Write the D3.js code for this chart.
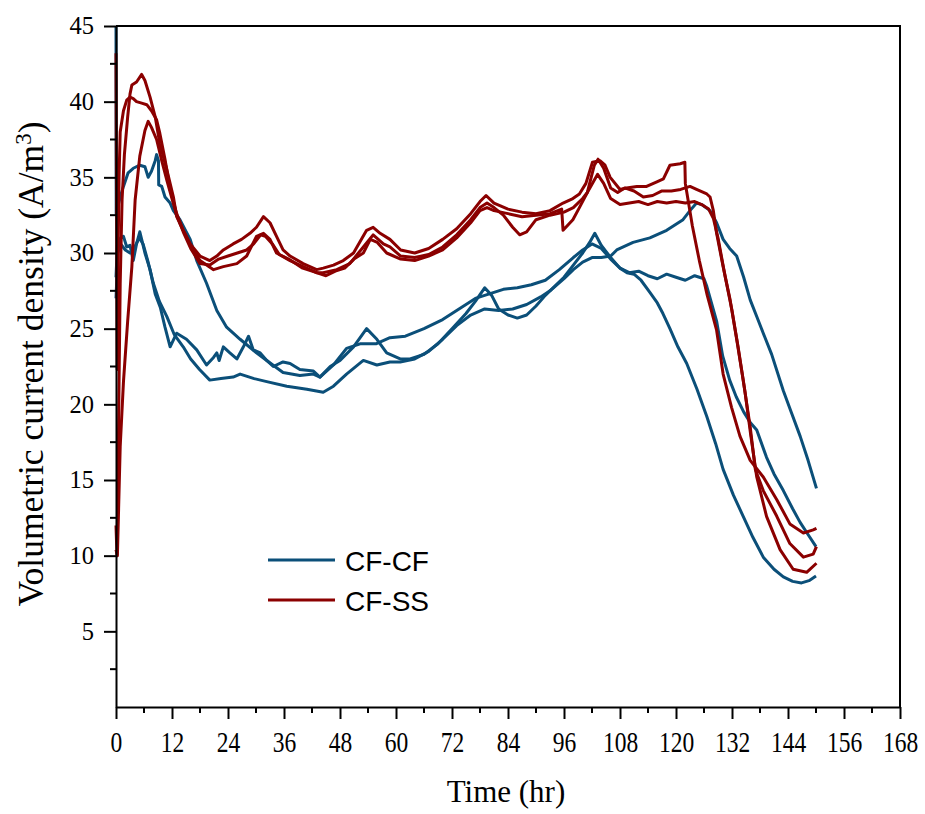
<!DOCTYPE html>
<html>
<head>
<meta charset="utf-8">
<script src="https://cdn.jsdelivr.net/npm/d3@7"></script>
<style>
  body { margin: 0; background: #fff; }
  svg { display: block; }
</style>
</head>
<body>
<div id="chart"></div>
<script>
// hours vs volumetric current density (A/m3)
const cfcf1 = [[0,45],[0.05,32.6],[0.9,33.7],[1.6,34.4],[2.6,35.3],[3.7,35.6],[5.1,35.8],[6.2,35.7],[6.9,35.0],[7.6,35.4],[8.4,36.1],[8.7,36.5],[9.1,36.1],[9.15,34.5],[9.8,34.4],[10.5,33.7],[11.6,33.3],[12.3,32.8],[13.7,32.2],[15.9,30.9],[17.3,29.5],[19.4,28.0],[21.6,26.2],[23.7,25.1],[26.6,24.3],[30.1,23.4],[32.3,22.9],[35.8,22.1],[39.4,21.9],[42.3,22.0],[43.7,21.8],[46.6,22.6],[49.4,23.7],[52.3,24.0],[55.7,24.0],[58.7,24.4],[62,24.5],[66,25.0],[70,25.6],[74,26.4],[77,27.0],[80,27.3],[83,27.6],[86,27.7],[89,27.9],[92,28.2],[95,28.9],[98,29.7],[100,30.2],[102,30.6],[104,30.3],[106,29.6],[108,29.0],[110,28.7],[112,28.8],[114,28.5],[116,28.3],[118,28.6],[120,28.4],[122,28.2],[124,28.5],[126,28.3],[126.6,27.8],[128.7,25.5],[130,23.2],[131.5,21.6],[132.9,20.5],[134.5,19.5],[135.9,18.8],[137.3,18.3],[139.4,16.5],[141,15.4],[143,14.3],[145,13.1],[146.6,12.2],[148.5,11.3],[150,10.6]];
const cfcf2 = [[0,28.4],[0.3,30.5],[1,31.0],[1.6,31.1],[2.3,30.4],[3,30.5],[3.7,29.5],[4.4,30.6],[5.1,31.4],[5.5,30.9],[6.2,30.0],[7.3,28.9],[8.4,27.3],[9.5,26.4],[10.5,25.1],[11.6,23.8],[13,24.7],[15.1,24.3],[17.3,23.6],[19.4,22.6],[20.9,23.1],[21.6,23.4],[22.1,22.9],[23,23.8],[24.4,23.4],[25.9,23.0],[27.3,23.8],[28.4,24.5],[29.4,23.6],[30.9,23.4],[32.3,22.9],[33.7,22.5],[35.8,22.8],[37.3,22.7],[39.4,22.3],[42.3,22.2],[43.7,21.8],[45.9,22.5],[48,22.9],[50.9,23.8],[53.7,25.0],[55.9,24.3],[58,23.4],[60.9,23.0],[63,23.0],[66,23.3],[69,24.0],[72,25.0],[75,26.0],[77,26.8],[79,27.7],[80.5,27.2],[82,26.3],[84,25.9],[86,25.7],[88,25.9],[90,26.5],[92,27.2],[94,27.8],[96,28.4],[98,29.2],[100,30.0],[101.5,30.7],[102.6,31.3],[104,30.5],[106,29.7],[108,29.0],[109.5,28.7],[111,28.6],[112.5,28.2],[114.4,27.4],[116,26.7],[117.2,26.0],[118.7,25.0],[120.4,23.8],[122.3,22.7],[124.5,21.0],[126.6,19.2],[128.5,17.4],[130.1,15.7],[132.3,14.0],[134.4,12.6],[136.5,11.2],[138.7,9.9],[141,9.1],[143,8.6],[145,8.3],[146.9,8.2],[148.5,8.35],[150,8.65]];
const cfcf3 = [[0,27.0],[0.4,30.0],[1,30.6],[2,30.2],[3,30.0],[4,30.4],[5,31.0],[5.8,30.6],[6.8,29.5],[8,28.0],[9.3,26.8],[10.9,25.8],[12.5,24.6],[14.4,23.8],[16,23.0],[17.9,22.3],[20.1,21.6],[22.5,21.7],[25.1,21.8],[26.6,22.0],[29.6,21.7],[32.3,21.5],[36.6,21.2],[40.9,21.0],[44.4,20.8],[46.6,21.2],[49.4,22.0],[53,22.9],[55.9,22.6],[58.7,22.8],[60.9,22.8],[64,23.0],[67,23.5],[70,24.3],[73,25.2],[76,25.9],[79,26.3],[82,26.2],[85,26.3],[88,26.6],[91,27.1],[93,27.5],[96,28.3],[98,28.9],[100,29.4],[102,29.7],[104,29.7],[106,29.8],[107.3,30.2],[110.8,30.7],[114.4,31.0],[118,31.5],[121.5,32.2],[123,32.8],[124.4,33.3],[125.5,33.2],[127.3,32.8],[128.7,32.0],[130.1,30.9],[131.5,30.3],[133,29.8],[134.5,28.4],[135.9,26.9],[137.3,25.8],[138.7,24.7],[140.5,23.3],[143,20.9],[144.8,19.4],[146.6,17.9],[148.3,16.3],[150.1,14.45]];

const cfss1 = [[0,12.0],[0.2,10.1],[0.4,14],[0.6,20],[0.9,28],[1.3,33.5],[1.8,36.5],[2.5,39.0],[3.0,40.5],[3.4,41.1],[4.4,41.3],[5.5,41.8],[6.2,41.4],[7.3,40.3],[8.4,39.0],[9.4,37.2],[10.9,35.5],[12.3,33.7],[13,32.4],[14.4,31.5],[15.9,30.6],[18,29.8],[20.1,29.5],[21.6,29.8],[23,30.2],[25.1,30.6],[26.9,30.9],[28.7,31.3],[30.1,31.7],[31.6,32.4],[33,32.0],[34.4,31.1],[35.8,30.2],[37.3,29.8],[40.1,29.3],[43,28.9],[44.4,29.0],[46.6,29.2],[48.7,29.5],[50.9,30.0],[53.7,31.5],[55.1,31.7],[56.6,31.3],[58.7,30.9],[61,30.2],[64,30.0],[67,30.3],[70,30.9],[73,31.6],[76,32.6],[78,33.4],[79.3,33.8],[81,33.3],[84,32.9],[87,32.7],[90,32.6],[93,32.8],[95.8,33.3],[97.9,33.6],[99.3,33.9],[100.7,34.6],[102.1,36.0],[103.7,36.1],[104.8,35.8],[105.9,35.0],[108,34.2],[109.4,34.3],[111.6,34.4],[113.7,34.4],[115.9,34.7],[117.3,34.9],[118.7,35.8],[120.9,35.9],[121.9,36.0],[122,34.6],[123.5,31.8],[125,29.5],[126.7,27.2],[128.7,24.9],[130.1,22.0],[131.9,19.8],[133.7,17.9],[135.9,16.3],[138.7,15.2],[141.6,13.7],[144.4,12.1],[147.3,11.5],[149.4,11.7],[150.1,11.8]];
const cfss2 = [[0,43.2],[0.25,22.3],[0.45,30],[0.65,35],[0.9,38.0],[1.6,39.4],[2.3,40.1],[3,40.3],[3.7,40.2],[4.4,40.0],[5.5,39.9],[6.6,39.8],[7.6,39.4],[8.7,38.8],[9.4,37.9],[10.5,36.2],[11.6,34.2],[13,32.6],[14.4,31.5],[16,30.5],[18,29.5],[20.9,28.9],[23,29.1],[25.9,29.3],[28,29.8],[30.1,31.1],[31.6,31.3],[33,30.9],[34.4,30.0],[37.3,29.5],[40.1,29.1],[43,28.7],[44.4,28.7],[47.3,28.9],[50.1,29.3],[53,30.4],[55.1,31.2],[57.3,30.6],[58.7,30.4],[61,29.8],[64,29.7],[67,29.9],[70,30.4],[73,31.2],[76,32.2],[78,33.0],[79.5,33.3],[81,33.0],[83,32.5],[85,31.7],[86.5,31.2],[88,31.4],[90,32.2],[93,32.5],[96,32.7],[98,33.0],[100,33.6],[101,34.0],[102.5,35.8],[103.3,36.2],[104.5,35.6],[106,34.3],[107.5,34.0],[109,34.3],[111,34.1],[113,33.7],[115,33.8],[117,34.1],[119,34.1],[121,34.2],[123,34.4],[124.4,34.2],[126.6,33.9],[127.3,33.7],[128,32.8],[128.7,31.3],[130.1,29.1],[131.6,26.9],[133,24.3],[134.4,21.6],[135.9,18.5],[137,15.7],[138.7,14.3],[141.6,12.6],[144.4,10.8],[147.3,9.9],[149.4,10.1],[150.1,10.6]];
const cfss3 = [[0,10.4],[0.3,10.0],[0.9,17.2],[1.6,21.5],[2.5,25.5],[3.4,29.1],[4.1,33.5],[5.1,36.4],[6.2,38.1],[6.9,38.7],[7.6,38.3],[8.7,37.5],[9.8,36.1],[10.9,34.8],[11.9,33.7],[13,32.5],[14.4,31.4],[16,30.3],[18,29.3],[20.1,29.2],[22,29.6],[24,29.8],[26,30.0],[28,30.2],[29.5,30.6],[31,31.2],[32,31.1],[33.5,30.6],[35,29.9],[37,29.6],[40,29.0],[42,28.8],[45,28.5],[47,28.8],[49,29.0],[51,29.6],[53,30.0],[54.5,30.9],[56,30.7],[58,30.0],[61,29.6],[64,29.5],[67,29.8],[70,30.2],[73,31.0],[76,32.0],[78,32.8],[79.5,33.0],[81,32.8],[84,32.6],[87,32.4],[90,32.5],[93,32.6],[95.5,32.9],[95.8,31.5],[97.9,32.2],[99.3,33.0],[101,34.0],[103.2,35.2],[104.5,34.6],[106,33.6],[108,33.2],[110,33.3],[112,33.4],[114,33.2],[116,33.4],[118,33.3],[120,33.4],[122,33.3],[124,33.4],[125.5,33.2],[127,32.9],[128,32.3],[129,31.0],[130.5,28.5],[132,26.2],[133.3,23.8],[134.8,20.8],[136,18.0],[137.3,15.2],[139.4,12.6],[142.3,10.4],[145.1,9.1],[148,8.9],[150.1,9.5]];

const groups = ['CF-CF', 'CF-SS'];
const xTicks = d3.range(0, 169, 12);
const yTicks = d3.range(5, 46, 5);

const colors = { 'CF-CF': '#0b4f79', 'CF-SS': '#8b0000' };
const series = [
  { group: 'CF-CF', values: cfcf1 },
  { group: 'CF-CF', values: cfcf2 },
  { group: 'CF-CF', values: cfcf3 },
  { group: 'CF-SS', values: cfss1 },
  { group: 'CF-SS', values: cfss2 },
  { group: 'CF-SS', values: cfss3 },
];

const size = { width: 925, height: 814 };
const margin = { top: 26, right: 25, bottom: 107, left: 116 };

const svg = d3.select('#chart').append('svg')
  .attr('width', size.width)
  .attr('height', size.height);

const x = d3.scaleLinear().domain([0, 168]).range([margin.left, size.width - margin.right]);
const y = d3.scaleLinear().domain([0, 45]).range([size.height - margin.bottom, margin.top]);

const line = d3.line()
  .x((d) => x(d[0]))
  .y((d) => y(d[1]));

svg.append('g')
  .selectAll('path')
  .data(series)
  .join('path')
  .attr('d', (d) => line(d.values))
  .attr('fill', 'none')
  .attr('stroke', (d) => colors[d.group])
  .attr('stroke-width', 3)
  .attr('stroke-linejoin', 'round');

// frame top / right
svg.append('path')
  .attr('d', `M${x(0)},${y(45)}H${x(168)}V${y(0)}`)
  .attr('fill', 'none')
  .attr('stroke', '#000')
  .attr('stroke-width', 2);

// minor ticks
const xMinor = d3.range(6, 168, 12);
const yMinor = d3.range(2.5, 45, 5);

const xAxis = svg.append('g')
  .attr('transform', `translate(0, ${y(0)})`)
  .call(d3.axisBottom(x).tickValues(xTicks).tickSize(12).tickSizeOuter(0).tickFormat(d3.format('d')));

xAxis.select('.domain').attr('stroke-width', 2);
xAxis.selectAll('.tick line').attr('stroke-width', 2);
xAxis.selectAll('.tick text')
  .attr('y', null)
  .attr('dy', null)
  .attr('transform', 'translate(0, 45) scale(1, 1.28)')
  .attr('fill', '#000')
  .style('font-family', '"Liberation Serif", "Times New Roman", serif')
  .style('font-size', '23.5px');

xAxis.selectAll('.minor')
  .data(xMinor)
  .join('line')
  .attr('class', 'minor')
  .attr('x1', (d) => x(d))
  .attr('x2', (d) => x(d))
  .attr('y1', 0)
  .attr('y2', 6)
  .attr('stroke', '#000')
  .attr('stroke-width', 2);

const yAxis = svg.append('g')
  .attr('transform', `translate(${x(0)}, 0)`)
  .call(d3.axisLeft(y).tickValues(yTicks).tickSize(12).tickSizeOuter(0).tickPadding(10));

yAxis.select('.domain').attr('stroke-width', 2);
yAxis.selectAll('.tick line').attr('stroke-width', 2);
yAxis.selectAll('.tick text')
  .attr('fill', '#000')
  .style('font-family', '"Liberation Serif", "Times New Roman", serif')
  .style('font-size', '24.5px');

yAxis.selectAll('.minor')
  .data(yMinor)
  .join('line')
  .attr('class', 'minor')
  .attr('x1', -6)
  .attr('x2', 0)
  .attr('y1', (d) => y(d))
  .attr('y2', (d) => y(d))
  .attr('stroke', '#000')
  .attr('stroke-width', 2);

// axis titles
svg.append('text')
  .attr('x', 506)
  .attr('y', 802)
  .attr('text-anchor', 'middle')
  .style('font-family', '"Liberation Serif", "Times New Roman", serif')
  .style('font-size', '31px')
  .text('Time (hr)');

const yTitle = svg.append('text')
  .attr('transform', 'translate(43, 364) rotate(-90)')
  .attr('text-anchor', 'middle')
  .style('font-family', '"Liberation Serif", "Times New Roman", serif')
  .style('font-size', '35.5px');
yTitle.append('tspan').text('Volumetric current density (A/m');
yTitle.append('tspan').attr('baseline-shift', 'super').style('font-size', '23px').text('3');
yTitle.append('tspan').text(')');

// legend
const legend = svg.append('g')
  .selectAll('g')
  .data(groups)
  .join('g')
  .attr('transform', (d, i) => `translate(268, ${560 + i * 40})`);

legend.append('line')
  .attr('x1', 0)
  .attr('x2', 67)
  .attr('stroke', (d) => colors[d])
  .attr('stroke-width', 3);

legend.append('text')
  .attr('x', 77)
  .attr('y', 11)
  .style('font-family', '"Liberation Sans", Arial, sans-serif')
  .style('font-size', '28px')
  .text((d) => d);
</script>
</body>
</html>
